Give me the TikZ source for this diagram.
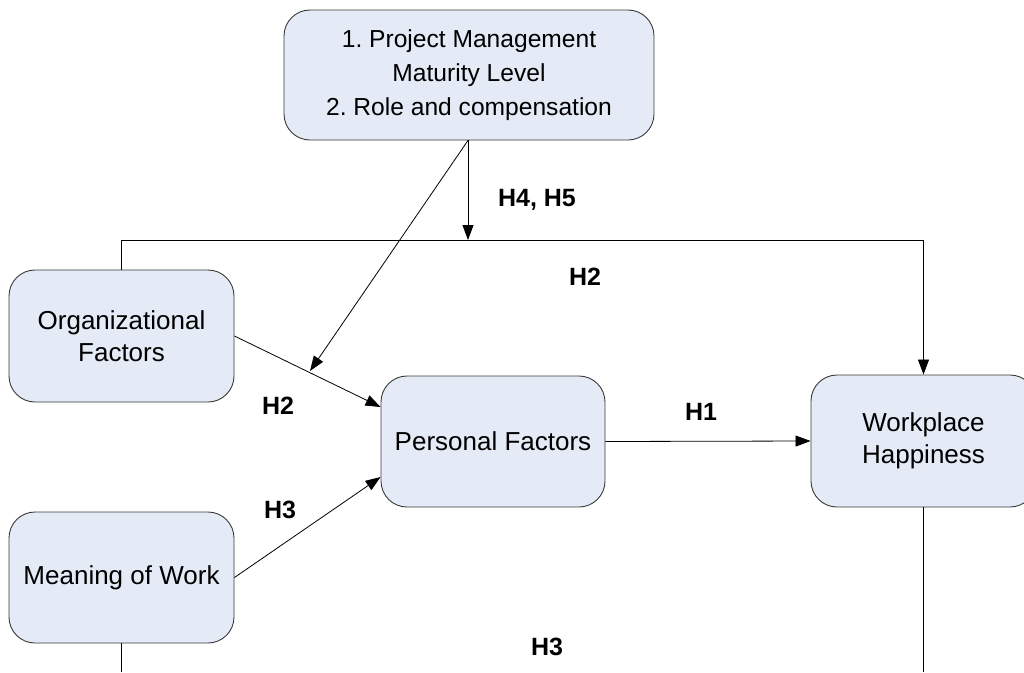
\documentclass[tikz,border=0pt]{standalone}
\usepackage{fontspec}
\setmainfont{Liberation Sans}
\usetikzlibrary{arrows.meta}
\definecolor{boxfill}{HTML}{E4EBF6}
\definecolor{boxline}{HTML}{3A3A3A}
\frenchspacing
\begin{document}
\begin{tikzpicture}[x=1pt,y=-1pt,
  box/.style={draw=boxline, line width=0.9pt, fill=boxfill, rounded corners=26pt,
    inner sep=0pt, align=center, font=\fontsize{26}{32}\selectfont},
  conn/.style={draw=black, line width=0.8pt},
  arr/.style={conn, -{Triangle[length=15pt,width=11pt]}},
  lbl/.style={font=\fontsize{25}{28}\selectfont\bfseries, inner sep=0pt}]
\useasboundingbox (0,0) rectangle (1024,672);
\fill[white] (0,0) rectangle (1024,672);
% nodes
\node[box, minimum width=370pt, minimum height=130pt, font=\fontsize{24.6}{34}\selectfont]
  (top) at (469,75) {1. Project Management\\Maturity Level\\2. Role and compensation};
\node[box, minimum width=225pt, minimum height=132pt] (org) at (121.5,336) {Organizational\\Factors};
\node[box, minimum width=225pt, minimum height=131pt] (mow) at (121.5,577.5) {Meaning of Work};
\node[box, minimum width=224pt, minimum height=131pt] (pf) at (493,441.5) {Personal Factors};
\node[box, minimum width=225pt, minimum height=132pt] (wh) at (923.5,441) {Workplace\\Happiness};
% junction coordinates
\coordinate (j) at (468,240);
\coordinate (m) at (310,371);
\coordinate (pfa) at ([yshift=34.5pt]pf.west);
\coordinate (pfb) at ([yshift=-35.5pt]pf.west);
\coordinate (bot) at (0,672);
% connectors
\draw[arr] (top.south -| j) -- (j);
\draw[conn] (org.north) -- (org.north |- j) -- (wh.north |- j);
\draw[arr] (wh.north |- j) -- (wh.north);
\draw[arr] (top.south -| j) -- (m);
\draw[arr] (org.east) -- (pfa);
\draw[arr] (mow.east) -- (pfb);
\draw[arr] (pf.east) -- (wh.west);
\draw[conn] (mow.south) -- (mow.south |- bot);
\draw[conn] (wh.south) -- (wh.south |- bot);
% labels
\node[lbl] (l45) at (537,200) {H4, H5};
\node[lbl] (l2a) at (585,277) {H2};
\node[lbl] (l2b) at (278,406) {H2};
\node[lbl] (l1) at (701,412) {H1};
\node[lbl] (l3a) at (280,510) {H3};
\node[lbl] (l3b) at (547,647) {H3};
\end{tikzpicture}
\end{document}
